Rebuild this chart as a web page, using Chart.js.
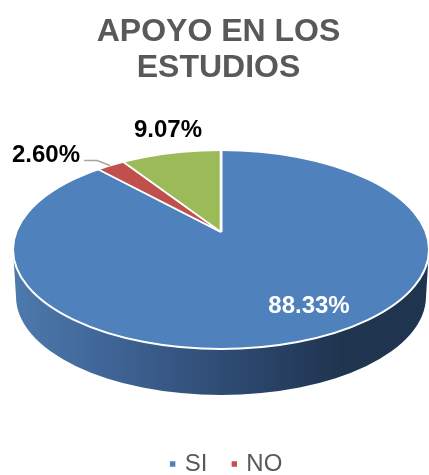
<!DOCTYPE html>
<html><head><meta charset="utf-8">
<style>html,body{margin:0;padding:0;background:#fff;overflow:hidden}canvas{display:block}</style>
<script src="https://cdn.jsdelivr.net/npm/chart.js@4"></script>
</head><body><canvas id="c" width="429" height="475"></canvas>
<script>
const titleLines = ["APOYO EN LOS", "ESTUDIOS"];
const categories = ["SI", "NO", ""];
const shares = [88.33, 2.60, 9.07];
const shareColors = ["#4f81bd", "#c0504d", "#9bbb59"];
const labelColors = ["#ffffff", "#000000", "#000000"];

// Layout of the tilted pie (perspective look)
const view = {
  apexX: 221, apexY: 232, radius: 260, tilt: 0.46,
  top: {cx: 221, cy: 249.5, rx: 208, ry: 99.5},
  base: {cx: 221, cy: 296.5, rx: 205, ry: 98.5}
};
const labelSpots = [[309, 306], [46, 155], [168, 130]];
const leader = [[84, 160.5], [97, 160.5], [110, 165.5]];
const legendShift = {x: 9, y: 11};

const pie3d = {
  id: 'pie3d',
  afterLayout(chart) {
    const l = chart.legend;
    l.left += legendShift.x; l.right += legendShift.x;
    l.top += legendShift.y; l.bottom += legendShift.y;
  },
  beforeDatasetsDraw(chart) {
    const ctx = chart.ctx, arc = chart.getDatasetMeta(0).data[0];
    const t = view.top, b = view.base;
    // side wall
    const g = ctx.createLinearGradient(b.cx - b.rx, 0, b.cx + b.rx, 0);
    g.addColorStop(0, '#4d79ab');
    g.addColorStop(0.2, '#41679a');
    g.addColorStop(0.5, '#2f4c74');
    g.addColorStop(0.8, '#1f344f');
    g.addColorStop(1, '#1f344f');
    ctx.save();
    ctx.beginPath();
    ctx.ellipse(b.cx, b.cy, b.rx, b.ry, 0, 0, Math.PI);
    ctx.lineTo(t.cx - t.rx, t.cy);
    ctx.ellipse(t.cx, t.cy, t.rx, t.ry, 0, Math.PI, 0, true);
    ctx.closePath();
    ctx.fillStyle = g;
    ctx.fill();
    ctx.restore();
    // top face: real pie arcs, squashed and clipped to the ellipse
    const k = view.radius / arc.outerRadius;
    ctx.save();
    ctx.beginPath();
    ctx.ellipse(t.cx, t.cy, t.rx, t.ry, 0, 0, Math.PI * 2);
    ctx.clip();
    ctx.translate(view.apexX, view.apexY);
    ctx.scale(k, k * view.tilt);
    ctx.translate(-arc.x, -arc.y);
  },
  afterDatasetsDraw(chart) {
    const ctx = chart.ctx, t = view.top;
    ctx.restore();
    ctx.save();
    ctx.beginPath();
    ctx.ellipse(t.cx, t.cy, t.rx, t.ry, 0, 0, Math.PI * 2);
    ctx.strokeStyle = '#ffffff';
    ctx.lineWidth = 2;
    ctx.stroke();
    // leader line
    ctx.beginPath();
    leader.forEach((p, i) => i ? ctx.lineTo(p[0], p[1]) : ctx.moveTo(p[0], p[1]));
    ctx.strokeStyle = '#a6a6a6';
    ctx.lineWidth = 1.5;
    ctx.stroke();
    // value labels
    ctx.font = 'bold 24px "Liberation Sans"';
    ctx.textAlign = 'center';
    ctx.textBaseline = 'middle';
    shares.forEach((v, i) => {
      ctx.fillStyle = labelColors[i];
      ctx.fillText(v.toFixed(2) + '%', labelSpots[i][0], labelSpots[i][1]);
    });
    ctx.restore();
  }
};

new Chart(document.getElementById('c'), {
  type: 'pie',
  plugins: [pie3d],
  data: {
    labels: categories,
    datasets: [{
      data: shares,
      backgroundColor: shareColors,
      borderColor: '#ffffff',
      borderWidth: 1.6,
      clip: false
    }]
  },
  options: {
    responsive: false,
    devicePixelRatio: 1,
    animation: false,
    layout: {padding: {left: 8}},
    plugins: {
      tooltip: {enabled: false},
      title: {
        display: true,
        text: titleLines,
        color: '#595959',
        font: {family: '"Liberation Sans"', size: 32, weight: 'bold', lineHeight: 1.1},
        padding: {top: 15, bottom: 10}
      },
      legend: {
        position: 'bottom',
        labels: {
          filter: item => item.text !== '',
          usePointStyle: true,
          pointStyle: 'rect',
          boxWidth: 0.01,
          boxHeight: 7,
          padding: 27,
          color: '#595959',
          font: {family: '"Liberation Sans"', size: 24}
        }
      }
    }
  }
});
</script></body></html>
